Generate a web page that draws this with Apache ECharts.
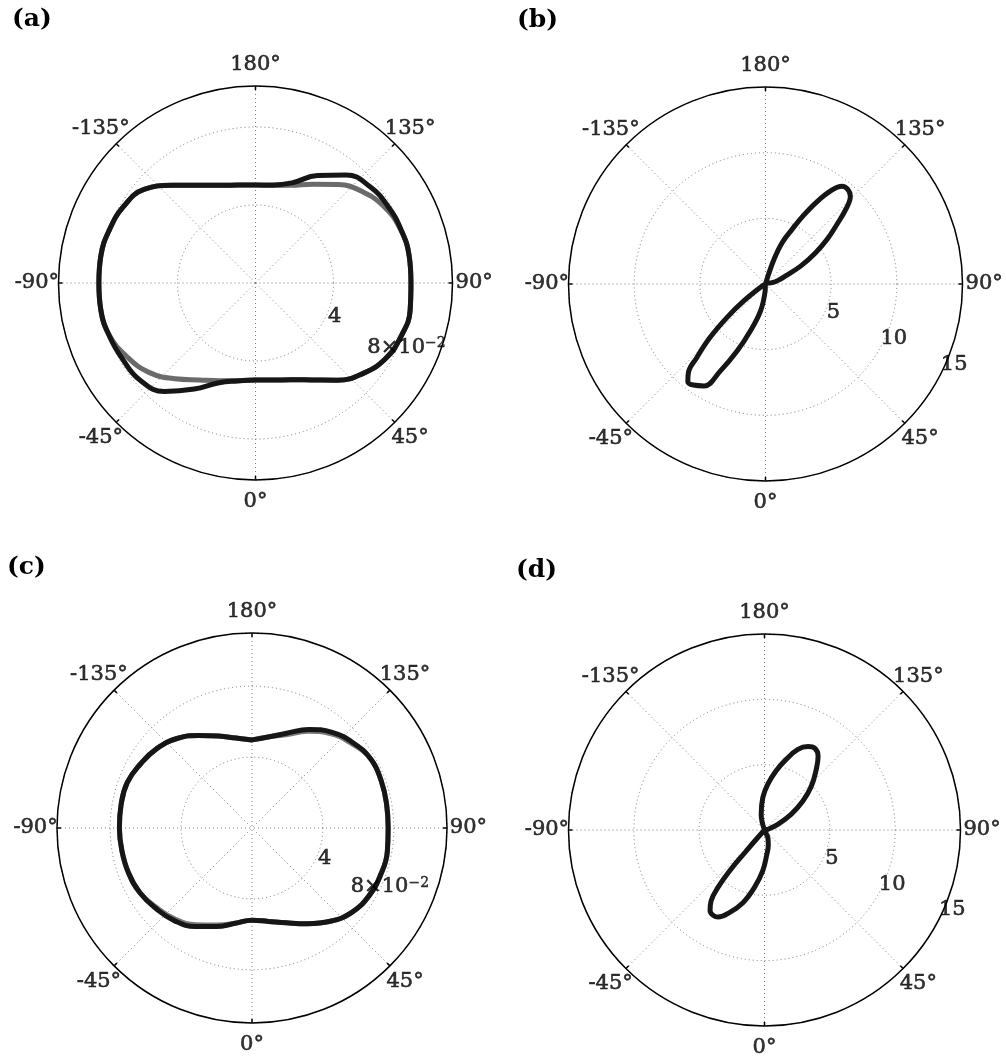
<!DOCTYPE html>
<html>
<head>
<meta charset="utf-8">
<script src="https://cdn.jsdelivr.net/npm/echarts/dist/echarts.min.js"></script>
<style>
  html, body { margin: 0; padding: 0; background: #ffffff; }
  #chart { width: 1006px; height: 1063px; }
</style>
</head>
<body>
<div id="chart"></div>
<script>
// ---- angular ticks (0° at the bottom, counter-clockwise toward 90° on the right) ----
const angleTicks = [0, 45, 90, 135, 180, -135, -90, -45];
const angleTickText = ['0°', '45°', '90°', '135°', '180°', '-135°', '-90°', '-45°'];

// ---- panels (a) and (c): sampled every 10 degrees ----
const thetaAC = [-180, -170, -160, -150, -140, -130, -120, -110, -100, -90, -80, -70, -60, -50, -40, -30, -20, -10,
                 0, 10, 20, 30, 40, 50, 60, 70, 80, 90, 100, 110, 120, 130, 140, 150, 160, 170];

const rA_dark = [0.0503, 0.0510, 0.0533, 0.0579, 0.0654, 0.0746, 0.0782, 0.0797, 0.0805, 0.0803, 0.0805, 0.0797,
                 0.0785, 0.0774, 0.0726, 0.0628, 0.0544, 0.0510, 0.0497, 0.0505, 0.0528, 0.0574, 0.0651, 0.0721,
                 0.0772, 0.0795, 0.0805, 0.0797, 0.0800, 0.0795, 0.0785, 0.0767, 0.0723, 0.0636, 0.0546, 0.0510];
const rA_grey = [0.0503, 0.0510, 0.0533, 0.0579, 0.0654, 0.0746, 0.0782, 0.0797, 0.0805, 0.0803, 0.0805, 0.0795,
                 0.0759, 0.0713, 0.0641, 0.0574, 0.0533, 0.0508, 0.0497, 0.0505, 0.0528, 0.0574, 0.0651, 0.0721,
                 0.0772, 0.0795, 0.0805, 0.0797, 0.0800, 0.0793, 0.0769, 0.0723, 0.0659, 0.0585, 0.0533, 0.0508];

const rC_dark = [0.0497, 0.0515, 0.0552, 0.0603, 0.0659, 0.0699, 0.0725, 0.0749, 0.0750, 0.0748, 0.0745, 0.0741,
                 0.0730, 0.0707, 0.0682, 0.0642, 0.0592, 0.0546, 0.0520, 0.0535, 0.0569, 0.0623, 0.0687, 0.0738,
                 0.0763, 0.0772, 0.0775, 0.0768, 0.0771, 0.0776, 0.0775, 0.0746, 0.0704, 0.0642, 0.0569, 0.0521];
const rC_grey = [0.0497, 0.0515, 0.0552, 0.0603, 0.0659, 0.0699, 0.0725, 0.0749, 0.0750, 0.0748, 0.0745, 0.0741,
                 0.0730, 0.0700, 0.0672, 0.0630, 0.0583, 0.0546, 0.0520, 0.0535, 0.0569, 0.0623, 0.0687, 0.0738,
                 0.0763, 0.0772, 0.0775, 0.0768, 0.0771, 0.0776, 0.0775, 0.0738, 0.0694, 0.0630, 0.0560, 0.0521];

// ---- panel (b): two-lobe pattern ----
const thetaB = [-180, -62, -59, -52, -49, -46, -43, -41, -38.5, -35.5, -31, -27.5, -23, -18, -10.5, -3, 2,
                96, 101, 106, 112, 117, 122, 126, 130, 133, 136, 139, 142, 145, 148, 151, 154, 158, 161, 163, 166];
const rB = [0, 0, 0.3, 2.1, 3.9, 5.9, 7.7, 8.95, 9.5, 9.45, 9.05, 7.5, 5.57, 3.78, 2.1, 0.55, 0,
            0, 0.52, 1.0, 1.65, 3.0, 4.5, 5.82, 7.14, 8.38, 9.3, 9.55, 9.45, 8.65, 7.38, 5.97, 4.65, 3.41, 2.0, 0.6, 0];

// ---- panel (d): two-lobe pattern ----
const thetaD = [-160, -44, -41.5, -41, -40.5, -39, -37, -34, -31, -28, -23, -16.5, -10, -2.5, 5.5, 14, 23.5, 35,
                95, 101, 113, 120.5, 127, 133, 139, 144, 148.5, 152.5, 157.5, 163, 169, 176, 183, 192, 200];
const rD = [0, 0, 1.2, 2.13, 4.12, 5.68, 6.79, 7.45, 7.62, 7.55, 6.87, 5.8, 4.48, 3.14, 1.87, 1.2, 0.64, 0,
            0, 0.26, 1.11, 2.36, 3.68, 4.9, 6.0, 6.98, 7.35, 7.2, 6.68, 5.65, 4.6, 3.5, 2.48, 1.22, 0];

// ---- radial tick values and their labels ----
const radTicksAC = [0.04, 0.08];
const radTextAC = ['4', '8×10{sup|−2}'];
const radTicksBD = [5, 10, 15];
const radTextBD = ['5', '10', '15'];
const panelNames = ['(a)', '(b)', '(c)', '(d)'];

const FONT = '"DejaVu Serif", "Liberation Serif", serif';
const INK = '#161616';

// layout of the four polar frames
const frames = [
  { center: [255.5, 283], radius: 197, max: 0.101, step: 0.04 },
  { center: [765.5, 284], radius: 197, max: 15, step: 5 },
  { center: [252, 828], radius: 195, max: 0.11, step: 0.04 },
  { center: [764.5, 830], radius: 196, max: 15, step: 5 }
];
const titlePos = [[12, 7], [517, 8], [7, 555], [516, 558]];

const dotted = { color: '#7a7a7a', width: 1, type: [1, 3] };

const polar = frames.map(f => ({ center: f.center, radius: f.radius }));
const angleAxis = frames.map((f, i) => ({
  polarIndex: i, type: 'value', min: 0, max: 360, interval: 45,
  startAngle: 270, clockwise: false,
  axisLine: { show: true, lineStyle: { color: '#000', width: 1.5 } },
  axisTick: { show: true, inside: true, length: 4, lineStyle: { color: '#000', width: 1.5 } },
  axisLabel: { show: false },
  splitLine: { show: true, lineStyle: dotted }
}));
const radiusAxis = frames.map((f, i) => ({
  polarIndex: i, type: 'value', min: 0, max: f.max, interval: f.step,
  axisLine: { show: false }, axisTick: { show: false }, axisLabel: { show: false },
  splitLine: { show: true, lineStyle: dotted }
}));

function curve(i, theta, r, color, z, smooth) {
  const pts = theta.map((a, k) => [r[k], a]);
  pts.push(pts[0]);
  return {
    type: 'line', coordinateSystem: 'polar', polarIndex: i,
    data: pts, symbol: 'none', showSymbol: false,
    smooth: smooth,
    lineStyle: { color: color, width: 5, cap: 'round', join: 'round' },
    silent: true, animation: false, z: z
  };
}

function textSeries(i, items) {
  return {
    type: 'scatter', coordinateSystem: 'polar', polarIndex: i, clip: false,
    symbolSize: 1, itemStyle: { color: 'rgba(0,0,0,0)' },
    silent: true, animation: false, z: 20,
    emphasis: { disabled: true },
    data: items,
    label: {
      show: true, position: 'inside', color: '#000', fontFamily: FONT, fontSize: 21,
      textBorderColor: '#000', textBorderWidth: 0.6,
      formatter: p => p.name,
      rich: {
        sup: { fontFamily: FONT, fontSize: 14, color: '#000', textBorderColor: '#000', textBorderWidth: 0.4,
               verticalAlign: 'top', lineHeight: 21 }
      }
    }
  };
}

const series = [];
frames.forEach((f, i) => {
  // angular labels sit just outside the frame
  series.push(textSeries(i, angleTicks.map((a, k) => ({ value: [f.max * 1.11, a], name: angleTickText[k] }))));
  // radial labels along the 67° ray, a few pixels beyond each circle
  const pad = 8 / f.radius * f.max;
  const ticks = f.max < 1 ? radTicksAC : radTicksBD;
  const texts = f.max < 1 ? radTextAC : radTextBD;
  series.push(textSeries(i, ticks.map((t, k) => ({ value: [t + pad, 67], name: texts[k] }))));
});

series.push(curve(0, thetaAC, rA_grey, '#6a6a6a', 3, 0.45));
series.push(curve(0, thetaAC, rA_dark, INK, 4, 0.45));
series.push(curve(1, thetaB, rB, INK, 4, 0.4));
series.push(curve(2, thetaAC, rC_grey, '#7a7a7a', 3, 0.45));
series.push(curve(2, thetaAC, rC_dark, INK, 4, 0.45));
series.push(curve(3, thetaD, rD, INK, 4, 0.4));

const title = panelNames.map((t, i) => ({
  text: t, left: titlePos[i][0], top: titlePos[i][1], padding: 0,
  textStyle: { fontFamily: FONT, fontWeight: 'bold', fontSize: 25, color: '#000' }
}));

const chart = echarts.init(document.getElementById('chart'), null, { renderer: 'canvas' });
chart.setOption({
  backgroundColor: '#ffffff',
  animation: false,
  title: title,
  polar: polar,
  angleAxis: angleAxis,
  radiusAxis: radiusAxis,
  series: series
});
</script>
</body>
</html>
